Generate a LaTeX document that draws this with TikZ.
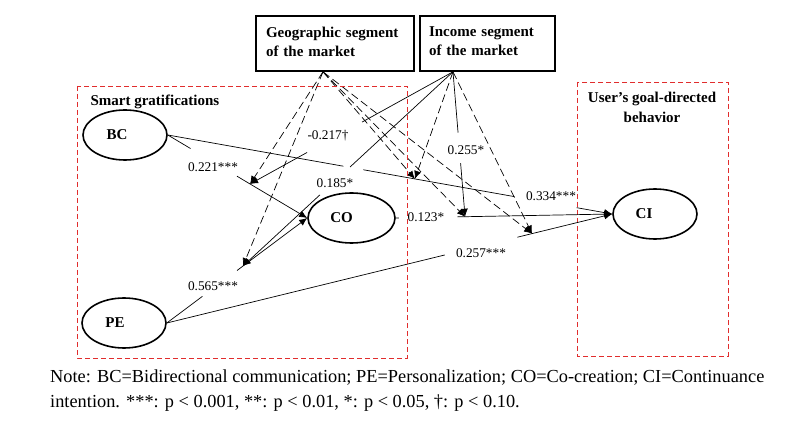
\documentclass[tikz,border=0pt]{standalone}
\usepackage{fontspec}
\setmainfont{Liberation Serif}
\usetikzlibrary{arrows.meta,shapes.geometric,calc}
\definecolor{gred}{RGB}{225,45,45}
\begin{document}
\begin{tikzpicture}[x=1pt,y=-1pt,
  latent/.style={ellipse, draw, line width=1.6pt, minimum width=84pt, minimum height=50pt, inner sep=0pt, font=\fontsize{15}{18}\selectfont\bfseries},
  segbox/.style={draw, line width=1.6pt, minimum height=55pt, inner ysep=0pt, align=left, font=\fontsize{15}{19}\selectfont\bfseries},
  pathln/.style={line width=0.7pt},
  tip/.style={-{Latex[length=8pt,width=7pt]}},
  modln/.style={line width=0.7pt, dash pattern=on 8pt off 4pt},
  coef/.style={fill=white, inner sep=1pt, font=\fontsize{13.3}{15}\selectfont},
  grp/.style={draw=gred, line width=0.8pt, dash pattern=on 5pt off 3pt},
  grptitle/.style={font=\fontsize{15}{20}\selectfont\bfseries, align=center},
  note/.style={font=\fontsize{18.35}{26}\selectfont, anchor=base west, inner sep=0pt}
]
\useasboundingbox[fill=white] (0,0) rectangle (800,430);

% right group box (drawn first, labels may cover it)
\draw[grp] (577,82) rectangle (728,356);
\node[grptitle, anchor=base] (ugt) at (652,123) {User’s goal-directed\\behavior};

% segment boxes
\node[segbox, text width=138pt, inner xsep=10pt] (geo) at (335,43.5) {Geographic segment\\of the market\rule[-4pt]{0pt}{4pt}};
\node[segbox, text width=117pt, inner xsep=9pt] (inc) at (487.5,43.5) {Income segment\\of the market\rule[-4pt]{0pt}{4pt}};
\coordinate (gs) at ([xshift=-12pt]geo.south);
\coordinate (is) at ([xshift=-34.5pt]inc.south);

% latent variables
\node[latent] (BC) at (125,135) {BC\hspace*{16pt}};
\node[latent, minimum width=87pt] (CO) at (351.5,218) {CO\hspace*{20pt}};
\node[latent] (PE) at (124,323) {PE\hspace*{18pt}};
\node[latent] (CI) at (655,214) {CI\hspace*{22pt}};

% moderation targets on the paths
\coordinate (A1) at ($(BC.east)!0.59!(CO.west)$);
\coordinate (A2) at ($(PE.east)!0.542!(CO.west)$);
\coordinate (A3) at ($(BC.east)!0.556!(CI.west)$);
\coordinate (A4) at ($(CO.east)!0.32!(CI.west)$);
\coordinate (A5) at ($(PE.east)!0.82!(CI.west)$);

% structural paths (broken where labels sit)
\coordinate (p1a) at ($(BC.east)!0.163!(CO.west)$);
\coordinate (p1b) at ($(BC.east)!0.496!(CO.west)$);
\draw[pathln] (BC.east) -- (p1a);
\draw[pathln,tip] (p1b) -- (CO.west);

\coordinate (p2a) at ($(PE.east)!0.254!(CO.west)$);
\coordinate (p2b) at ($(PE.east)!0.5!(CO.west)$);
\draw[pathln] (PE.east) -- (p2a);
\draw[pathln,tip] (p2b) -- (CO.west);

\coordinate (p3a) at ($(BC.east)!0.395!(CI.west)$);
\coordinate (p3b) at ($(BC.east)!0.44!(CI.west)$);
\coordinate (p3c) at ($(BC.east)!0.78!(CI.west)$);
\coordinate (p3d) at ($(BC.east)!0.92!(CI.west)$);
\draw[pathln] (BC.east) -- (p3a);
\draw[pathln] (p3b) -- (p3c);
\draw[pathln,tip] (p3d) -- (CI.west);

\coordinate (p4a) at ($(CO.east)!0.014!(CI.west)$);
\coordinate (p4b) at ($(CO.east)!0.284!(CI.west)$);
\draw[pathln] (CO.east) -- (p4a);
\draw[pathln,tip] (p4b) -- (CI.west);

\coordinate (p5a) at ($(PE.east)!0.624!(CI.west)$);
\coordinate (p5b) at ($(PE.east)!0.787!(CI.west)$);
\draw[pathln] (PE.east) -- (p5a);
\draw[pathln,tip] (p5b) -- (CI.west);

% geographic moderation (dashed)
\draw[modln,tip] (gs) -- (A1);
\draw[modln,tip] (gs) -- (A2);
\draw[modln,tip] (gs) -- (A3);
\draw[modln,tip] (gs) -- (A4);
\draw[modln,tip] (gs) -- (A5);

% income moderation
\coordinate (m1a) at ($(is)!0.448!(A1)$);
\coordinate (m1b) at ($(is)!0.719!(A1)$);
\draw[pathln] (is) -- (m1a);
\draw[pathln,tip] (m1b) -- (A1);
\coordinate (m2a) at ($(is)!0.49!(A2)$);
\coordinate (m2b) at ($(is)!0.633!(A2)$);
\draw[pathln] (is) -- (m2a);
\draw[pathln,tip] (m2b) -- (A2);
\draw[modln,tip] (is) -- (A3);
\coordinate (m4a) at ($(is)!0.42!(A4)$);
\coordinate (m4b) at ($(is)!0.63!(A4)$);
\draw[pathln] (is) -- (m4a);
\draw[pathln,tip] (m4b) -- (A4);
\draw[modln,tip] (is) -- (A5);

% coefficients
\node[coef] (l1) at (213,167) {0.221***};
\node[coef] (l2) at (328,136) {-0.217†};
\node[coef] (l3) at (335,183) {0.185*};
\node[coef] (l4) at (213,286) {0.565***};
\node[coef] (l5) at (426,217) {0.123*};
\node[coef] (l6) at (466,150) {0.255*};
\node[coef] (l7) at (551,196) {0.334***};
\node[coef] (l8) at (481,253) {0.257***};

% left group box
\draw[grp] (77,86) rectangle (407,358);
\node[grptitle, anchor=base west] (sgt) at (87,106) {Smart gratifications};

% note
\node[note] (n1) at (50,382) {Note: BC=Bidirectional communication; PE=Personalization; CO=Co-creation; CI=Continuance};
\node[note] (n2) at (50,407) {intention. ***: p < 0.001, **: p < 0.01, *: p < 0.05, †: p < 0.10.};
\end{tikzpicture}
\end{document}
